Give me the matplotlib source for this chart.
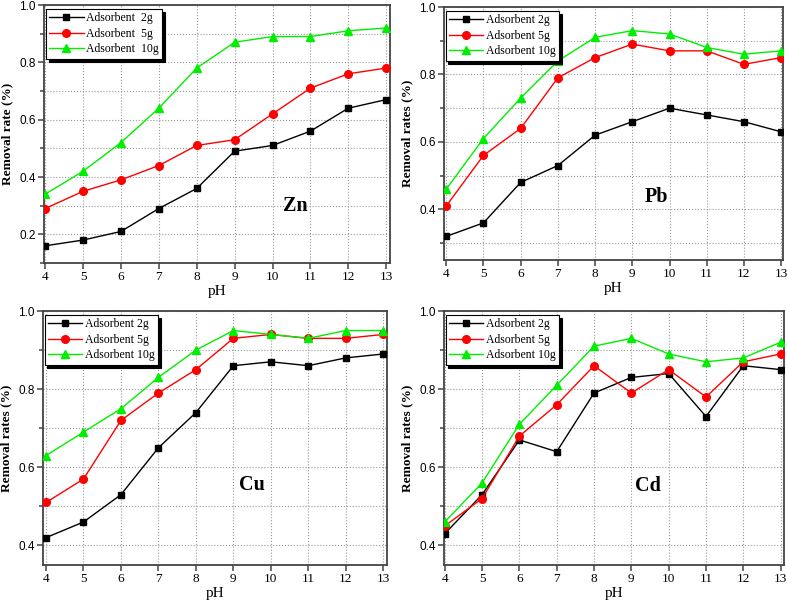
import numpy as np
import matplotlib
matplotlib.use('Agg')
import matplotlib.pyplot as plt
from matplotlib.ticker import MultipleLocator

plt.rcParams['font.family'] = ['Liberation Serif', 'DejaVu Serif']

ph = [4, 5, 6, 7, 8, 9, 10, 11, 12, 13]

zn_2g = [0.16, 0.18, 0.21, 0.29, 0.36, 0.49, 0.51, 0.56, 0.64, 0.67]
zn_5g = [0.29, 0.35, 0.39, 0.44, 0.51, 0.53, 0.62, 0.71, 0.76, 0.78]
zn_10g = [0.34, 0.42, 0.52, 0.64, 0.78, 0.87, 0.89, 0.89, 0.91, 0.92]

pb_2g = [0.32, 0.36, 0.48, 0.53, 0.62, 0.66, 0.70, 0.68, 0.66, 0.63]
pb_5g = [0.41, 0.56, 0.64, 0.79, 0.85, 0.89, 0.87, 0.87, 0.83, 0.85]
pb_10g = [0.46, 0.61, 0.73, 0.84, 0.91, 0.93, 0.92, 0.88, 0.86, 0.87]

cu_2g = [0.42, 0.46, 0.53, 0.65, 0.74, 0.86, 0.87, 0.86, 0.88, 0.89]
cu_5g = [0.51, 0.57, 0.72, 0.79, 0.85, 0.93, 0.94, 0.93, 0.93, 0.94]
cu_10g = [0.63, 0.69, 0.75, 0.83, 0.90, 0.95, 0.94, 0.93, 0.95, 0.95]

cd_2g = [0.43, 0.53, 0.67, 0.64, 0.79, 0.83, 0.84, 0.73, 0.86, 0.85]
cd_5g = [0.45, 0.52, 0.68, 0.76, 0.86, 0.79, 0.85, 0.78, 0.87, 0.89]
cd_10g = [0.46, 0.56, 0.71, 0.81, 0.91, 0.93, 0.89, 0.87, 0.88, 0.92]

W, H = 787, 601
fig = plt.figure(figsize=(W / 100, H / 100), dpi=100)


def px_axes(left, right, top, bottom):
    return fig.add_axes([left / W, 1 - bottom / H, (right - left) / W, (bottom - top) / H])


def panel(ax, s2, s5, s10, labels, ylim, xlim, ylabel, metal, metal_pos):
    ax.plot(ph, s2, color='black', marker='s', ms=5, lw=1, label=labels[0], zorder=3)
    ax.plot(ph, s5, color='red', marker='o', ms=5.5, lw=1, label=labels[1], zorder=3)
    ax.plot(ph, s10, color='#00ee00', marker='^', ms=6, lw=1, label=labels[2], zorder=3)
    ax.set_xlim(*xlim)
    ax.set_ylim(*ylim)
    ax.set_xticks(ph)
    ax.yaxis.set_major_locator(MultipleLocator(0.2))
    ax.yaxis.set_minor_locator(MultipleLocator(0.1))
    ax.grid(True, which='both', axis='y', ls=':', color='#999999', lw=0.8)
    ax.grid(True, which='major', axis='x', ls=':', color='#999999', lw=0.8)
    ax.set_axisbelow(True)
    for sp in ax.spines.values():
        sp.set_color('#444444')
        sp.set_linewidth(1.3)
    ax.tick_params(axis='both', which='both', direction='out', color='#444444', width=1.1)
    ax.tick_params(axis='both', which='major', length=4, pad=2)
    ax.tick_params(axis='y', which='minor', length=3)
    for t in ax.get_yticklabels():
        t.set_fontfamily('Liberation Sans')
        t.set_fontsize(8.5)
    for t in ax.get_xticklabels():
        t.set_fontsize(9.5)
    ax.set_xlabel('pH', fontsize=11, labelpad=1)
    ax.set_ylabel(ylabel, fontsize=9.5, fontweight='bold', labelpad=4)
    ax.text(metal_pos[0], metal_pos[1], metal, fontsize=14.5, fontweight='bold',
            ha='center', va='center', zorder=4)
    leg = ax.legend(loc='upper left', bbox_to_anchor=(0.005, 0.985), borderaxespad=0,
                    fancybox=False, framealpha=1, edgecolor='black', fontsize=8.5,
                    handlelength=2.9, handletextpad=0.2, labelspacing=0.3,
                    borderpad=0.3, shadow={'color': 'black', 'alpha': 1})
    leg.get_frame().set_linewidth(0.8)


ax1 = px_axes(44, 390, 5, 263)
panel(ax1, zn_2g, zn_5g, zn_10g, ['Adsorbent  2g', 'Adsorbent  5g', 'Adsorbent  10g'],
      (0.1, 1.0), (3.97, 13.1), 'Removal rate (%)', 'Zn', (10.6, 0.3))

ax2 = px_axes(444, 783, 7, 260)
panel(ax2, pb_2g, pb_5g, pb_10g, ['Adsorbent 2g', 'Adsorbent 5g', 'Adsorbent 10g'],
      (0.25, 1.0), (3.94, 13.05), 'Removal rates (%)', 'Pb', (9.65, 0.437))

ax3 = px_axes(43, 387, 311, 565)
panel(ax3, cu_2g, cu_5g, cu_10g, ['Adsorbent 2g', 'Adsorbent 5g', 'Adsorbent 10g'],
      (0.35, 1.0), (3.92, 13.1), 'Removal rates (%)', 'Cu', (9.5, 0.556))

ax4 = px_axes(444, 784, 311, 565)
panel(ax4, cd_2g, cd_5g, cd_10g, ['Adsorbent 2g', 'Adsorbent 5g', 'Adsorbent 10g'],
      (0.35, 1.0), (3.98, 13.09), 'Removal rates (%)', 'Cd', (9.45, 0.551))

fig.savefig('out.png', dpi=100)
